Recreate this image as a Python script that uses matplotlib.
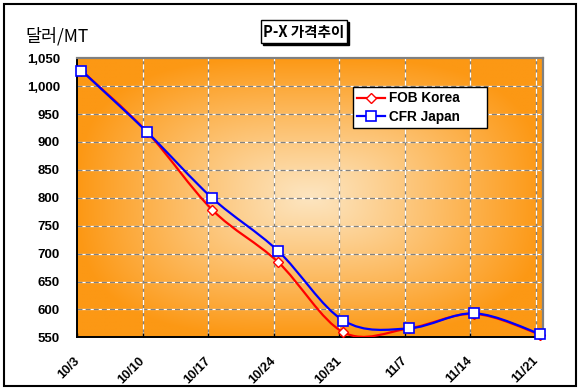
import numpy as np
import matplotlib
matplotlib.use('Agg')
import matplotlib.pyplot as plt
import matplotlib.transforms as mtransforms
from matplotlib.path import Path
from matplotlib.patches import PathPatch, Rectangle
from matplotlib.lines import Line2D

# data (USD/MT, weekly)
dates = ['10/3', '10/10', '10/17', '10/24', '10/31', '11/7', '11/14', '11/21']
fob_korea = [1028, 918, 778, 685, 559, 566, 592, 555]
cfr_japan = [1028, 918, 799, 705, 580, 566, 593, 556]
yticks = [550, 600, 650, 700, 750, 800, 850, 900, 950, 1000, 1050]

font = 'Liberation Sans'
kfont = ['Noto Sans CJK KR', 'DejaVu Sans']

# days since 10/3, points sit roughly in the middle of their day
tick_days = [7 * i for i in range(len(dates))]
pt_days = [d + 0.45 for d in tick_days]


def smooth_path(xs, ys):
    # excel style smoothed line as cubic bezier segments
    p = np.column_stack([xs, ys]).astype(float)
    p = np.vstack([p[0], p, p[-1]])
    verts = [p[1]]
    codes = [Path.MOVETO]
    for i in range(1, len(p) - 2):
        c1 = p[i] + (p[i + 1] - p[i - 1]) / 6.0
        c2 = p[i + 1] - (p[i + 2] - p[i]) / 6.0
        verts += [c1, c2, p[i + 1]]
        codes += [Path.CURVE4] * 3
    return Path(verts, codes)


fig = plt.figure(figsize=(5.81, 3.91), dpi=100)
fig.patch.set_facecolor('white')
ax = fig.add_axes([0.133, 0.1373, 0.802, 0.7137])

# rectangular gradient from centre, light peach to orange
gx = np.linspace(-1, 1, 300)
gy = np.linspace(-1, 1, 200)
X, Y = np.meshgrid(gx, gy)
t = (np.abs(X) ** 3 + np.abs(Y) ** 3) ** (1 / 3.0)
t = np.clip(t, 0, 1) ** 1.1
c_in = np.array([253, 229, 192]) / 255.0
c_out = np.array([252, 152, 20]) / 255.0
img = c_in[None, None, :] * (1 - t[..., None]) + c_out[None, None, :] * t[..., None]
ax.imshow(img, extent=[0, 1, 0, 1], transform=ax.transAxes, aspect='auto',
          zorder=0, interpolation='bilinear')

ax.set_xlim(0, 49.8)
ax.set_ylim(550, 1050)

# grid lines
for yv in yticks[1:-1]:
    ax.axhline(yv, color='white', lw=0.9, zorder=1)
    ax.axhline(yv, color='#808080', lw=0.9, ls=(0, (4, 2.5)), zorder=1.1)
for xv in tick_days[1:]:
    ax.axvline(xv, color='#808080', lw=0.9, zorder=1)
    ax.axvline(xv, color='white', lw=0.9, ls=(0, (4, 2.5)), zorder=1.1)

# lines
ax.add_patch(PathPatch(smooth_path(pt_days, fob_korea), fill=False,
                       edgecolor='#FF0000', lw=1.6, zorder=3))
ax.plot(pt_days, fob_korea, ls='none', marker='D', ms=5.5, mfc='white',
        mec='#FF0000', mew=1.0, zorder=4, clip_on=False)
ax.add_patch(PathPatch(smooth_path(pt_days, cfr_japan), fill=False,
                       edgecolor='#0000FF', lw=1.6, zorder=5))
ax.plot(pt_days, cfr_japan, ls='none', marker='s', ms=6.8, mfc='white',
        mec='#0000FF', mew=1.2, zorder=6, clip_on=False)

# axes look
ax.set_yticks(yticks)
ax.set_yticklabels(['{:,}'.format(v) for v in yticks], fontfamily=font,
                   fontweight='bold', fontsize=9.5)
ax.set_xticks(tick_days)
ax.set_xticklabels(dates, fontfamily=font, fontweight='bold', fontsize=9.3,
                   rotation=45, ha='right', va='top', rotation_mode='anchor')
ax.tick_params(axis='y', length=0, pad=12.5)
ax.tick_params(axis='x', direction='in', length=3, width=1, pad=12.5)
shift = mtransforms.ScaledTranslation(-0.04, 0, fig.dpi_scale_trans)
for lab in ax.get_xticklabels():
    lab.set_transform(lab.get_transform() + shift)
for s in ['left', 'bottom']:
    ax.spines[s].set_color('black')
    ax.spines[s].set_linewidth(1.4)
for s in ['top', 'right']:
    ax.spines[s].set_color('#808080')
    ax.spines[s].set_linewidth(1.6)

handles = [
    Line2D([], [], color='#FF0000', lw=1.6, marker='D', ms=5.5, mfc='white',
           mec='#FF0000', mew=1.0),
    Line2D([], [], color='#0000FF', lw=1.6, marker='s', ms=6.8, mfc='white',
           mec='#0000FF', mew=1.2),
]
leg = ax.legend(handles, ['FOB Korea', 'CFR Japan'], loc='upper left',
                bbox_to_anchor=(0.591, 0.76, 0.289, 0.138), mode='expand',
                borderaxespad=0, fancybox=False,
                framealpha=1, edgecolor='black', handlelength=2.0,
                handletextpad=0.3, borderpad=0.35, labelspacing=0.3,
                prop={'family': font, 'weight': 'bold', 'size': 9.8})
leg.get_frame().set_linewidth(1.0)
leg.set_zorder(10)

# title box with shadow
fig.patches.append(Rectangle((262.7 / 581, 1 - 44.7 / 391), 86.3 / 581, 22.7 / 391,
                             transform=fig.transFigure, facecolor='black',
                             edgecolor='black', zorder=1))
fig.patches.append(Rectangle((260.7 / 581, 1 - 42.7 / 391), 86.3 / 581, 22.7 / 391,
                             transform=fig.transFigure, facecolor='white',
                             edgecolor='black', lw=1.0, zorder=2))
fig.text(303.8 / 581, 1 - 31.5 / 391, 'P-X 가격추이', family=kfont,
         fontweight='bold', fontsize=10.5, ha='center', va='center', zorder=3)

fig.text(25 / 581, 1 - 36.5 / 391, '달러/MT', family=kfont, fontsize=12.5,
         fontweight='medium', ha='left', va='center')

# outer chart border
fig.patches.append(Rectangle((4 / 581, 1 - 386 / 391), 572 / 581, 382 / 391,
                             transform=fig.transFigure, fill=False,
                             edgecolor='black', lw=1.5, zorder=0))

fig.savefig('out.png', dpi=100, facecolor='white')
